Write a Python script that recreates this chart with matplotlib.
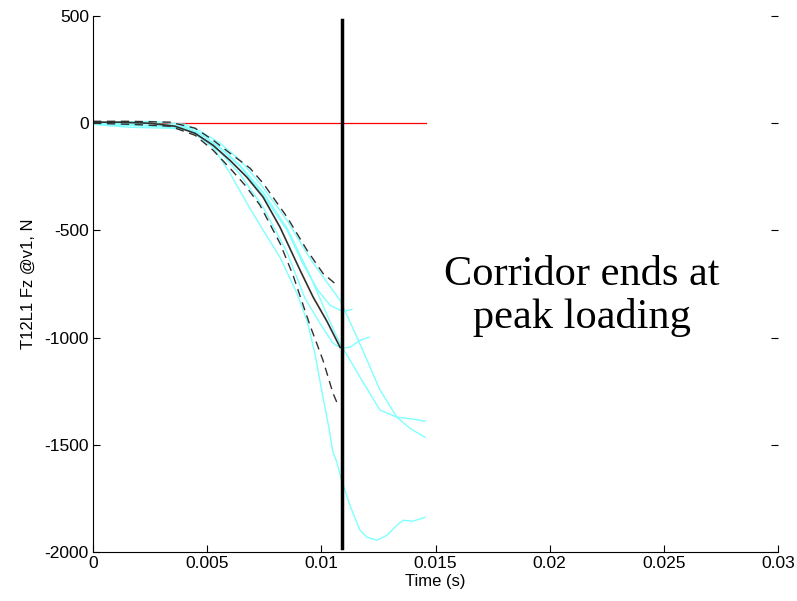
import numpy as np
import matplotlib.pyplot as plt

plt.rcParams['axes.unicode_minus'] = False

# Subject traces (time in s, force in N)
t_c1 = [0, 0.00162, 0.00337, 0.00425, 0.00526, 0.006, 0.00674, 0.00745, 0.00819, 0.00893, 0.00937,
        0.00972, 0.01003, 0.01033, 0.0105, 0.01068, 0.01086, 0.01125, 0.01169, 0.012, 0.01244,
        0.01287, 0.01331, 0.01358, 0.01402, 0.01454]
f_c1 = [-5, -19, -23, -33, -112, -233, -373, -499, -625, -793, -920,
        -1075, -1255, -1420, -1530, -1581, -1656, -1782, -1898, -1931, -1945,
        -1922, -1875, -1852, -1856, -1838]

t_c2 = [0, 0.0025, 0.00403, 0.00469, 0.00556, 0.00644, 0.00731, 0.0085, 0.0095, 0.01025, 0.01082,
        0.01156, 0.012, 0.01257, 0.01331, 0.01388, 0.01454]
f_c2 = [0, 9, -5, -37, -93, -172, -280, -453, -630, -742, -826,
        -998, -1105, -1245, -1371, -1423, -1465]

t_c3 = [0, 0.0025, 0.00403, 0.00469, 0.00556, 0.00644, 0.00745, 0.0085, 0.0095, 0.01016, 0.0106,
        0.01091, 0.01126, 0.01169, 0.01257, 0.01331, 0.01402, 0.01454]
f_c3 = [0, 0, -14, -47, -112, -196, -322, -490, -709, -872, -979,
        -1045, -1105, -1184, -1338, -1371, -1380, -1390]

t_c4 = [0, 0.0025, 0.00403, 0.00469, 0.00556, 0.00644, 0.00745, 0.0085, 0.00915, 0.00985, 0.01038,
        0.01082, 0.01104, 0.01134]
f_c4 = [-5, -14, -23, -51, -117, -201, -336, -499, -647, -779, -849,
        -872, -877, -868]

t_c5 = [0, 0.0025, 0.00403, 0.00469, 0.00556, 0.00644, 0.00745, 0.0085, 0.00928, 0.00994, 0.01051,
        0.01086, 0.01126, 0.01169, 0.01209]
f_c5 = [0, -9, -19, -61, -135, -238, -392, -602, -816, -933, -1026,
        -1049, -1045, -1012, -998]

# Corridor: mean and bounds
t_mean = [0, 0.00118, 0.0025, 0.00359, 0.00447, 0.00526, 0.006, 0.00674, 0.00745, 0.00819, 0.00907,
          0.00964, 0.01025, 0.01082]
f_mean = [5, 5, 0, -14, -47, -103, -173, -252, -345, -485, -686, -811, -925, -1045]

t_upper = [0, 0.00162, 0.00337, 0.00447, 0.00526, 0.006, 0.00688, 0.00745, 0.0085, 0.00937, 0.01007, 0.01069]
f_upper = [9, 9, 5, -23, -79, -140, -210, -280, -438, -592, -700, -756]

t_lower = [0, 0.00162, 0.00337, 0.00447, 0.00526, 0.006, 0.00666, 0.00731, 0.00819, 0.00876, 0.0095,
           0.01007, 0.01051, 0.01073]
f_lower = [0, -5, -14, -56, -126, -210, -289, -382, -560, -709, -942, -1105, -1259, -1315]

t_peak = 0.0109
t_end = 0.01458

fig = plt.figure(figsize=(7.97, 6.01), dpi=100)
ax = fig.add_axes([0.1167, 0.0815, 0.8595, 0.8918])

cyan = '#80ffff'
for t, f in [(t_c1, f_c1), (t_c2, f_c2), (t_c3, f_c3), (t_c4, f_c4), (t_c5, f_c5)]:
    ax.plot(t, f, color=cyan, lw=1.0)

ax.plot(t_mean, f_mean, color='#303030', lw=1.2)
ax.plot(t_upper, f_upper, color='#303030', lw=1.0, dashes=(6, 4))
ax.plot(t_lower, f_lower, color='#303030', lw=1.0, dashes=(6, 4))
ax.plot([0, t_end], [0, 0], color='red', lw=0.9, zorder=1.9)
ax.plot([t_peak, t_peak], [480, -1980], color='black', lw=2.5)

ax.text(0.02142, -807, 'Corridor ends at\npeak loading', fontsize=30.5,
        family='Liberation Serif', ha='center', va='center', linespacing=1.15)

ax.set_xlim(0, 0.03)
ax.set_ylim(-2000, 500)
ax.set_xticks([0, 0.005, 0.01, 0.015, 0.02, 0.025, 0.03])
ax.set_xticklabels(['0', '0.005', '0.01', '0.015', '0.02', '0.025', '0.03'])
ax.set_yticks([-2000, -1500, -1000, -500, 0, 500])
ax.tick_params(direction='in', length=5, labelsize=12.5, right=True, width=0.8, pad=3)
ax.spines['top'].set_visible(False)
ax.spines['right'].set_visible(False)
for lbl in ax.get_xticklabels() + ax.get_yticklabels():
    lbl.set_family('Liberation Sans')
ax.set_xlabel('Time (s)', fontsize=12, family='Liberation Sans', labelpad=2)
ax.set_ylabel('T12L1 Fz @v1, N', fontsize=12, family='Liberation Sans', labelpad=6)

fig.savefig('out.png', dpi=100)
